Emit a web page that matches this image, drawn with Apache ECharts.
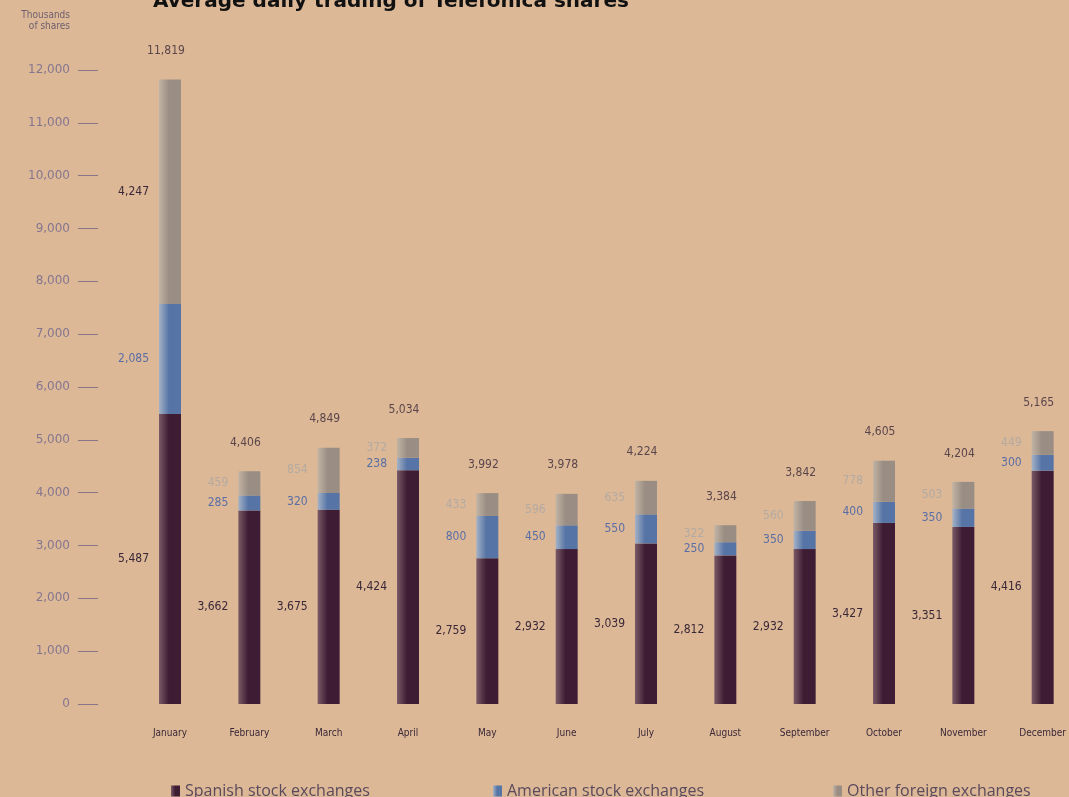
<!DOCTYPE html>
<html><head><meta charset="utf-8">
<script src="https://cdn.jsdelivr.net/npm/echarts@6/dist/echarts.min.js"></script>
<style>html,body{margin:0;padding:0;background:#dcb896;}#c{width:1069px;height:797px;}</style>
</head><body><div id="c"></div>
<script>
const months = ['January','February','March','April','May','June','July','August','September','October','November','December'];
const spanish = [5487,3662,3675,4424,2759,2932,3039,2812,2932,3427,3351,4416];
const american = [2085,285,320,238,800,450,550,250,350,400,350,300];
const otherForeign = [4247,459,854,372,433,596,635,322,560,778,503,449];
const yTicks = [0,1000,2000,3000,4000,5000,6000,7000,8000,9000,10000,11000,12000];
const totals = months.map((m,i)=>spanish[i]+american[i]+otherForeign[i]);

const fmt = v => v.toLocaleString('en-US');
const narrow = '"DejaVu Sans Condensed", "Liberation Sans Narrow", sans-serif';
function grad(a,b){return new echarts.graphic.LinearGradient(0,0,1,0,[{offset:0,color:a},{offset:0.45,color:b},{offset:1,color:b}]);}
const cSp = grad('#7a5a66','#3e1c34');
const cAm = grad('#a4b2c6','#5674a6');
const cOt = grad('#c2b4a4','#9a8e84');

function lbl(color){
  return {show:true, position:'left', distance:10, color:color, fontFamily:narrow, fontSize:12,
    formatter:p=>fmt(p.value)};
}
const otherData = otherForeign.map((v,i)=> i===0 ? {value:v, label:{color:'#3a2838'}} : v);
const chart = echarts.init(document.getElementById('c'),null,{renderer:'canvas'});
chart.setOption({
  backgroundColor:'#dcb896',
  animation:false,
  title:{text:'Average daily trading of Telefónica shares', left:148, top:-13,
    textStyle:{fontSize:20,fontWeight:'bold',color:'#111',fontFamily:'"DejaVu Sans", sans-serif'}},
  graphic:[{type:'text', right:1069-70, top:10, style:{text:'Thousands\nof shares', fill:'#6e6070', font:'10px "DejaVu Sans Condensed", sans-serif', textAlign:'right', lineHeight:11}}],
  legend:[
    {data:['Spanish stock exchanges'], left:166, top:778, icon:'rect', itemWidth:9, itemHeight:11, itemGap:5,
      textStyle:{fontSize:16,color:'#5a4a5c',fontFamily:'"Open Sans", sans-serif'}},
    {data:['American stock exchanges'], left:488, top:778, icon:'rect', itemWidth:9, itemHeight:11,
      textStyle:{fontSize:16,color:'#5a4a5c',fontFamily:'"Open Sans", sans-serif'}},
    {data:['Other foreign exchanges'], left:828, top:778, icon:'rect', itemWidth:9, itemHeight:11,
      textStyle:{fontSize:16,color:'#5a4a5c',fontFamily:'"Open Sans", sans-serif'}}
  ],
  grid:{left:170, right:23, top:70, bottom:93},
  xAxis:{type:'category', data:months, boundaryGap:false, axisLine:{show:false}, axisTick:{show:false},
    axisLabel:{margin:24, color:'#3a2838', fontSize:10, fontFamily:narrow, interval:0}},
  yAxis:{type:'value', min:0, max:12000, interval:1000, offset:72,
    axisLine:{show:false}, splitLine:{show:false},
    axisTick:{show:true, length:20, lineStyle:{color:'#8a7488', width:1}},
    axisLabel:{margin:28, color:'#857690', fontSize:12, fontFamily:'"DejaVu Sans", sans-serif',
      formatter:v=>yTicks.includes(v)?fmt(v):''}},
  series:[
    {name:'Spanish stock exchanges', type:'bar', stack:'t', data:spanish, barWidth:22,
      itemStyle:{color:cSp}, label:lbl('#3a2838')},
    {name:'American stock exchanges', type:'bar', stack:'t', data:american, barWidth:22,
      itemStyle:{color:cAm}, label:lbl('#5a6ea6')},
    {name:'Other foreign exchanges', type:'bar', stack:'t', data:otherData, barWidth:22,
      itemStyle:{color:cOt}, label:lbl('#b4aaa2')},
    {name:'Total', type:'scatter', data:totals, symbolSize:1, itemStyle:{color:'rgba(0,0,0,0)'},
      label:{show:true, position:'top', distance:22, offset:[-4,0], color:'#3a2838', fontSize:12, fontFamily:narrow,
        formatter:p=>fmt(p.value)}}
  ]
});
</script></body></html>
